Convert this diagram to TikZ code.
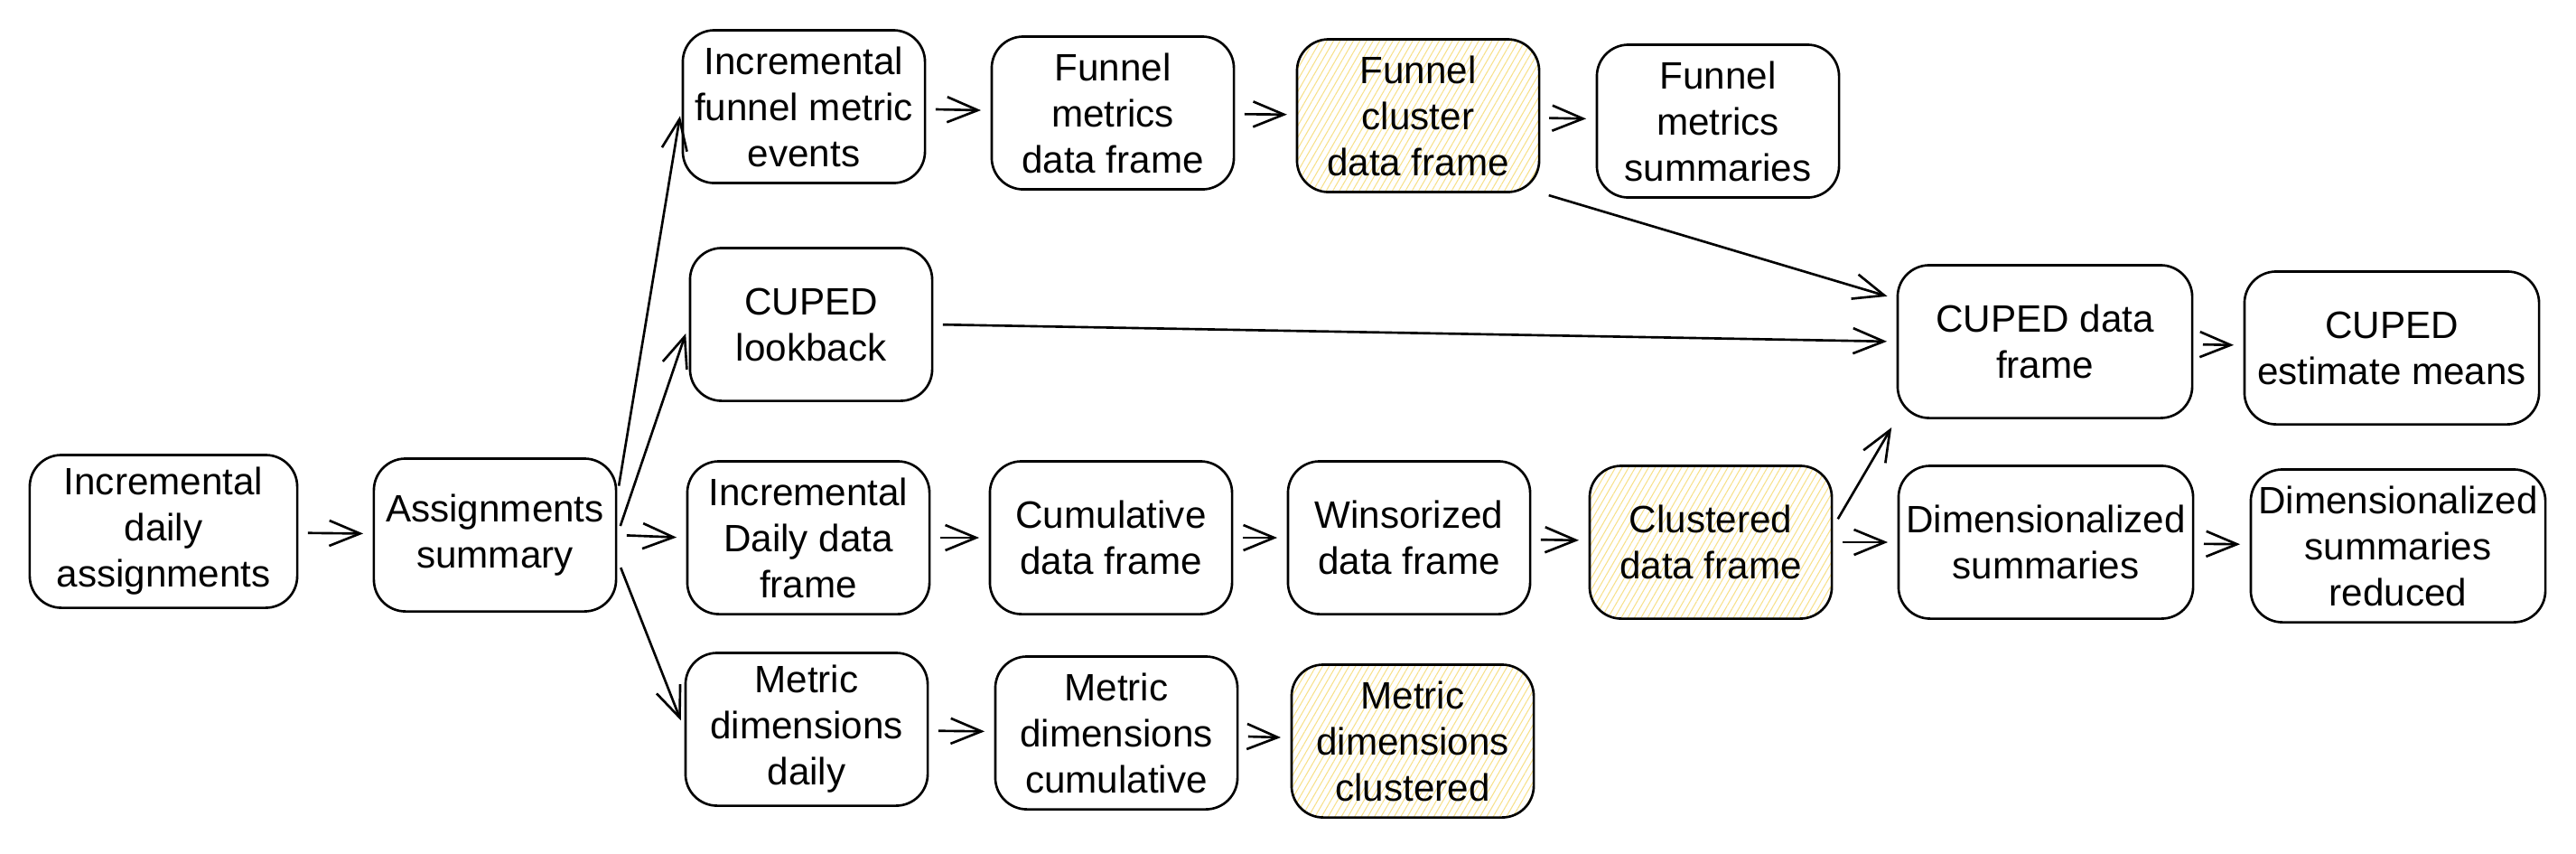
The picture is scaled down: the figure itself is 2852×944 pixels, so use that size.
\documentclass[tikz,border=0pt]{standalone}
\usepackage{fontspec}
\setmainfont{Liberation Sans}
\usetikzlibrary{arrows.meta, patterns.meta}

\definecolor{hatchyellow}{HTML}{F7E08A}

\tikzset{
  stage/.style={draw, line width=0.75pt, rounded corners=3.5mm, align=center,
    inner sep=1pt, minimum width=2.68cm, minimum height=1.69cm,
    font=\fontsize{12}{14.5}\selectfont},
  widestage/.style={stage, minimum width=3.26cm},
  clustered/.style={pattern={Lines[angle=60, distance=1.8pt, line width=0.3pt]},
    pattern color=hatchyellow},
  flow/.style={line width=0.75pt, shorten >=3pt, shorten <=3pt}
}

\begin{document}
\begin{tikzpicture}[->, >={Straight Barb[length=3.4mm, width=2.8mm]}, x=0.01cm, y=-0.01cm]
\useasboundingbox (0,0) rectangle (2852,944);

\node[stage, minimum width=2.96cm] (1) at (181,588) {Incremental\\daily\\assignments};
\node[stage] (2) at (548,592) {Assignments\\summary};
\node[stage] (3) at (890,118) {Incremental\\funnel metric\\events};
\node[stage] (4) at (1232,125) {Funnel\\metrics\\data frame};
\node[stage, clustered] (5) at (1570,128) {Funnel\\cluster\\data frame};
\node[stage] (6) at (1902,134) {Funnel\\metrics\\summaries};
\node[stage] (7) at (898,359) {CUPED\\lookback};
\node[widestage] (8) at (2264,378) {CUPED data\\frame};
\node[widestage] (9) at (2648,385) {CUPED\\estimate means};
\node[stage] (10) at (895,595) {Incremental\\Daily data\\frame};
\node[stage] (11) at (1230,595) {Cumulative\\data frame};
\node[stage] (12) at (1560,595) {Winsorized\\data frame};
\node[stage, clustered] (13) at (1894,600) {Clustered\\data frame};
\node[widestage] (14) at (2265,600) {Dimensionalized\\summaries};
\node[widestage] (15) at (2655,604) {Dimensionalized\\summaries\\reduced};
\node[stage] (16) at (893,807) {Metric\\dimensions\\daily};
\node[stage] (17) at (1236,811) {Metric\\dimensions\\cumulative};
\node[stage, clustered] (18) at (1564,820) {Metric\\dimensions\\clustered};

\path[flow] (1) edge (2)
      (2.18) edge (3.west)
      (2.east) edge (7.west)
      (2.east) edge (10.west)
      (2.-11) edge (16.west)
      (3) edge (4)
      (4) edge (5)
      (5) edge (6)
      (5.south east) edge (8.164)
      (7.east) edge (8.west)
      (8) edge (9)
      (10) edge (11)
      (11) edge (12)
      (12) edge (13)
      (13.7) edge (8.south west)
      (13) edge (14)
      (14) edge (15)
      (16) edge (17)
      (17) edge (18);
\end{tikzpicture}
\end{document}
